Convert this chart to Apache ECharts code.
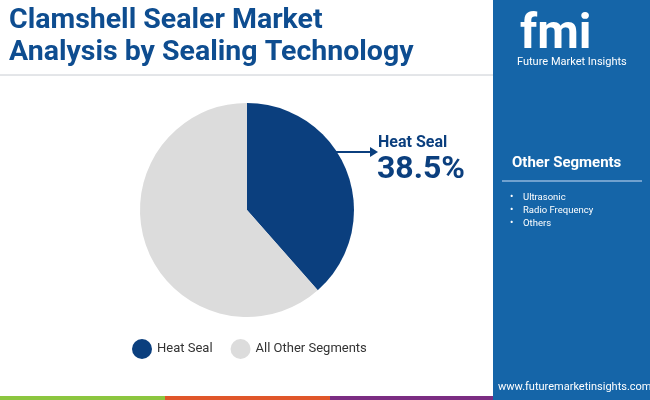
<!DOCTYPE html>
<html><head><meta charset="utf-8">
<script src="https://cdn.jsdelivr.net/npm/echarts@6/dist/echarts.min.js"></script>
<style>html,body{margin:0;padding:0;background:#fff}#c{width:650px;height:400px}</style>
</head><body><div id="c"></div>
<script>
const categories = ["Heat Seal", "All Other Segments"];
const values = [38.5, 61.5];
const colors = ["#0b3f7e", "#dcdcdc"];
const otherSegments = ["Ultrasonic", "Radio Frequency", "Others"];
const F = "Roboto, 'Noto Sans', sans-serif";
const chart = echarts.init(document.getElementById('c'));
const g = [
  {type:'rect', shape:{x:493,y:0,width:157,height:400}, style:{fill:'#1565a8'}},
  {type:'line', shape:{x1:0,y1:75,x2:493,y2:75}, style:{stroke:'#c8ccd2',lineWidth:1}},
  {type:'text', left:9, top:5, style:{text:'Clamshell Sealer Market\nAnalysis by Sealing Technology', font:'bold 28.5px '+F, fill:'#0e4d90', lineHeight:32}},
  {type:'text', left:520, top:12, style:{text:'fmi', font:'bold 48px '+F, fill:'#ffffff'}},
  {type:'text', left:517, top:57, style:{text:'Future Market Insights', font:'11px '+F, fill:'#ffffff'}},
  {type:'text', left:512, top:156, style:{text:'Other Segments', font:'bold 15px '+F, fill:'#ffffff'}},
  {type:'line', shape:{x1:502,y1:181,x2:642,y2:181}, style:{stroke:'#8fb6dc',lineWidth:1.5}},
  {type:'text', left:498, top:382, style:{text:'www.futuremarketinsights.com', font:'11px '+F, fill:'#ffffff'}},
  {type:'rect', shape:{x:0,y:396,width:165,height:4}, style:{fill:'#8cc63f'}},
  {type:'rect', shape:{x:165,y:396,width:165,height:4}, style:{fill:'#e0562a'}},
  {type:'rect', shape:{x:330,y:396,width:163,height:4}, style:{fill:'#7b2d82'}},
  {type:'line', shape:{x1:335,y1:152,x2:372,y2:152}, style:{stroke:'#0b3f7e',lineWidth:2}},
  {type:'polygon', shape:{points:[[378,152],[370,147],[370,157]]}, style:{fill:'#0b3f7e'}},
  {type:'text', left:378, top:135, style:{text:categories[0], font:'bold 16px '+F, fill:'#0b3f7e'}},
  {type:'text', left:377, top:154, style:{text:values[0].toFixed(1)+'%', font:'bold 32px '+F, fill:'#0b3f7e'}}
];
otherSegments.forEach((s,i)=>{
  g.push({type:'text', left:510, top:192+i*13, style:{text:'•', font:'10px '+F, fill:'#fff'}});
  g.push({type:'text', left:523, top:193+i*13, style:{text:s, font:'9.5px '+F, fill:'#fff'}});
});
chart.setOption({
  animation:false,
  legend:{bottom:36, left:127, icon:'circle', itemWidth:20, itemHeight:20, itemGap:18,
    textStyle:{fontSize:13, fontFamily:F, color:'#333'}, data:categories},
  series:[{type:'pie', center:[247,210], radius:[0,107], startAngle:90, clockwise:true,
    label:{show:false}, labelLine:{show:false}, silent:true,
    data:categories.map((c,i)=>({name:c, value:values[i], itemStyle:{color:colors[i]}}))}],
  graphic:g
});
</script></body></html>
